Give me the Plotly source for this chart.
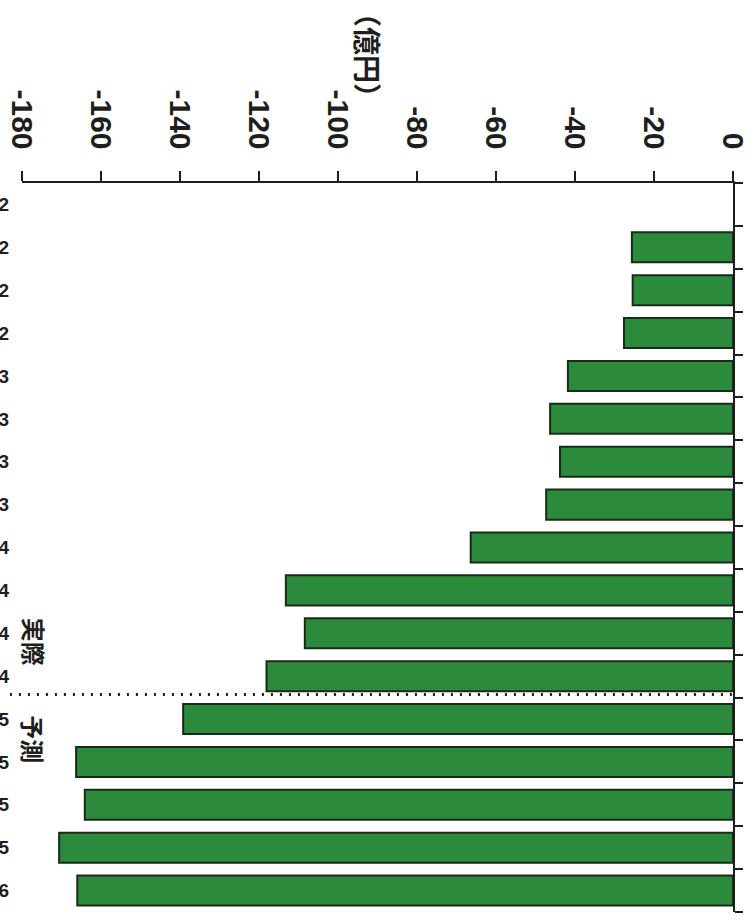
import plotly.graph_objects as go

# Quarterly balance (億円): actual results through 4Q 2014, forecast from 1Q 2015
quarters = [
    "1Q 2012", "2Q 2012", "3Q 2012", "4Q 2012",
    "1Q 2013", "2Q 2013", "3Q 2013", "4Q 2013",
    "1Q 2014", "2Q 2014", "3Q 2014", "4Q 2014",
    "1Q 2015", "2Q 2015", "3Q 2015", "4Q 2015",
    "1Q 2016",
]
balance = [
    None, -25.6, -25.4, -27.6,
    -41.8, -46.3, -43.8, -47.3,
    -66.4, -113.2, -108.4, -118.1,
    -139.2, -166.3, -164.1, -170.6,
    -166.0,
]
value_ticks = [0, -20, -40, -60, -80, -100, -120, -140, -160, -180]
last_actual = "4Q 2014"
unit_label = "（億円）"
actual_label = "実際"
forecast_label = "予測"

ink = "#1e1e1e"
bar_green = "#2c8a3c"
tick_font = dict(family="Liberation Sans Narrow, Liberation Sans, Arial", size=30,
                 color=ink, weight="bold")

fig = go.Figure()
fig.add_trace(go.Bar(
    y=quarters, x=balance, orientation="h",
    marker=dict(color=bar_green, line=dict(color="#1a2a1a", width=2)),
    showlegend=False, hoverinfo="x+y",
))

n = len(quarters)
split = quarters.index(last_actual)

fig.update_layout(
    width=755, height=922,
    margin=dict(l=22, r=22, t=183, b=10),
    paper_bgcolor="white", plot_bgcolor="white",
    bargap=0.3,
    xaxis=dict(
        side="top", range=[-180, 0], tickvals=value_ticks,
        ticktext=[str(v) for v in value_ticks],
        tickangle=90, tickfont=tick_font,
        ticks="outside", ticklen=10, tickwidth=2, tickcolor=ink,
        showline=True, linecolor=ink, linewidth=2,
        showgrid=False, zeroline=False, ticklabelstandoff=11,
        automargin=False,
    ),
    yaxis=dict(
        type="category", categoryorder="array", categoryarray=quarters,
        range=[n - 0.5, -0.5],
        showline=False, showgrid=False, zeroline=False, ticks="",
        tickfont=dict(family="Liberation Sans, Arial", size=19, color=ink, weight="bold"),
        ticklabelstandoff=12, automargin=False,
    ),
    yaxis2=dict(
        overlaying="y", side="right", anchor="x",
        range=[n - 0.5, -0.5],
        tickvals=[i - 0.5 for i in range(n + 1)],
        showticklabels=False, ticks="outside", ticklen=8, tickwidth=2, tickcolor=ink,
        showline=True, linecolor=ink, linewidth=2, showgrid=False, zeroline=False,
    ),
)

# invisible trace so the boundary-tick axis on the right is drawn
fig.add_trace(go.Scatter(x=[None], y=[None], yaxis="y2", showlegend=False, hoverinfo="skip"))

# dotted divider between actual and forecast periods
fig.add_shape(
    type="line", xref="paper", yref="y",
    x0=-0.017, x1=1.0, y0=split + 0.43, y1=split + 0.43,
    line=dict(color=ink, width=3, dash="2px,7px"), layer="above",
)

label_font = dict(family="Noto Sans CJK JP", size=24, color=ink, weight="bold")
fig.add_annotation(text=unit_label, textangle=90, xref="paper", yref="paper",
                   x=(368 - 22) / 711, y=1 + (183 - 55) / 729,
                   xanchor="center", yanchor="middle",
                   showarrow=False, font=dict(family="Noto Sans CJK JP", size=28,
                                              color=ink, weight="bold"))
fig.add_annotation(text=actual_label, textangle=90, xref="paper", yref="y",
                   x=(34 - 22) / 711, y=10.2, xanchor="center", yanchor="middle",
                   showarrow=False, font=label_font)
fig.add_annotation(text=forecast_label, textangle=90, xref="paper", yref="y",
                   x=(34 - 22) / 711, y=12.47, xanchor="center", yanchor="middle",
                   showarrow=False, font=label_font)

fig.write_html("out.html")
